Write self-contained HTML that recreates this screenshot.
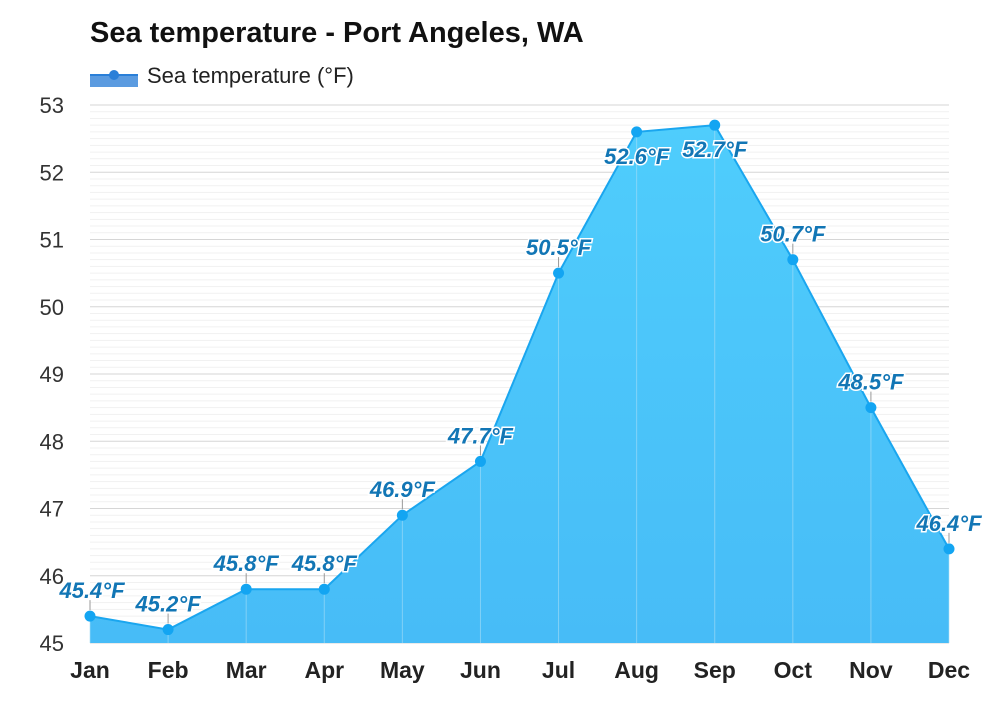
<!DOCTYPE html>
<html><head><meta charset="utf-8"><style>
body{margin:0;background:#fff;font-family:"Liberation Sans",sans-serif}
</style></head><body>
<svg id="chart" width="1000" height="700" xmlns="http://www.w3.org/2000/svg">
<defs><linearGradient id="fg" x1="0" y1="0" x2="0" y2="1"><stop offset="0" stop-color="#4fcdfc"/><stop offset="1" stop-color="#47bcf7"/></linearGradient></defs>
<text x="90" y="42" font-size="29" font-weight="bold" fill="#111">Sea temperature - Port Angeles, WA</text>
<g>
<rect x="90" y="75" width="48" height="12" fill="#5b9be0"/>
<line x1="90" y1="75" x2="138" y2="75" stroke="#2a7fd8" stroke-width="2"/>
<circle cx="114" cy="75" r="5" fill="#2a7fd8"/>
<text x="147" y="83" font-size="22" fill="#222">Sea temperature (°F)</text>
</g>
<g id="grid"></g><g id="yaxis"></g><g id="series"></g><g id="xaxis"></g>
</svg>
<script>
const months=["Jan","Feb","Mar","Apr","May","Jun","Jul","Aug","Sep","Oct","Nov","Dec"];
const temps=[45.4,45.2,45.8,45.8,46.9,47.7,50.5,52.6,52.7,50.7,48.5,46.4];
const yTicks=[45,46,47,48,49,50,51,52,53];
const NS="http://www.w3.org/2000/svg";
const L=90,R=949,T=105,B=643,ymin=45,ymax=53;
const xs=i=>L+i*(R-L)/(months.length-1);
const ys=v=>B-(v-ymin)/(ymax-ymin)*(B-T);
function mk(t,a,p){const e=document.createElementNS(NS,t);for(const k in a)e.setAttribute(k,a[k]);p.appendChild(e);return e;}
const grid=document.getElementById('grid'),ya=document.getElementById('yaxis'),se=document.getElementById('series'),xa=document.getElementById('xaxis');
for(let v=ymin*10;v<=ymax*10;v++){const y=ys(v/10);const major=v%10===0;
const g=mk('line',{x1:L,x2:R,y1:y,y2:y,stroke:major?'#d6d6d6':'#f1f1f1','stroke-width':1},grid);

}
yTicks.forEach(v=>{const t=mk('text',{x:64,y:ys(v)+8,'font-size':22,fill:'#333','text-anchor':'end'},ya);t.textContent=v;

});
let d='M'+xs(0)+','+B;temps.forEach((v,i)=>d+=' L'+xs(i)+','+ys(v));d+=' L'+xs(temps.length-1)+','+B+' Z';
const area=mk('path',{d:d,fill:'url(#fg)'},se);


months.forEach((m,i)=>{const vl=mk('line',{x1:xs(i),x2:xs(i),y1:ys(temps[i]),y2:B,stroke:'#a9def7','stroke-width':1,'stroke-opacity':0.6},se);

});
const line=mk('polyline',{points:temps.map((v,i)=>xs(i)+','+ys(v)).join(' '),fill:'none',stroke:'#1aa6ef','stroke-width':2},se);


temps.forEach((v,i)=>{const x=xs(i),y=ys(v);
let lx=x;if(i===0)lx=Math.max(x,92);if(i===months.length-1)lx=Math.min(x,950);
const below=(y-18)<120;
const ly=below?y+32:y-18;
if(!below){const tk=mk('line',{x1:x,x2:x,y1:y-6,y2:y-16,stroke:'#999','stroke-width':1},se);

}
const c=mk('circle',{cx:x,cy:y,r:5.5,fill:'#13a5f2'},se);


const t=mk('text',{x:lx,y:ly,'font-size':22,'font-weight':'bold','font-style':'italic',fill:'#1276b5',stroke:'#fff','stroke-width':3,'paint-order':'stroke','text-anchor':'middle'},se);
t.textContent=v.toFixed(1)+'°F';


const mt=mk('text',{x:x,y:678,'font-size':23,'font-weight':'bold',fill:'#222','text-anchor':'middle'},xa);mt.textContent=months[i];

});
</script>
</body></html>
